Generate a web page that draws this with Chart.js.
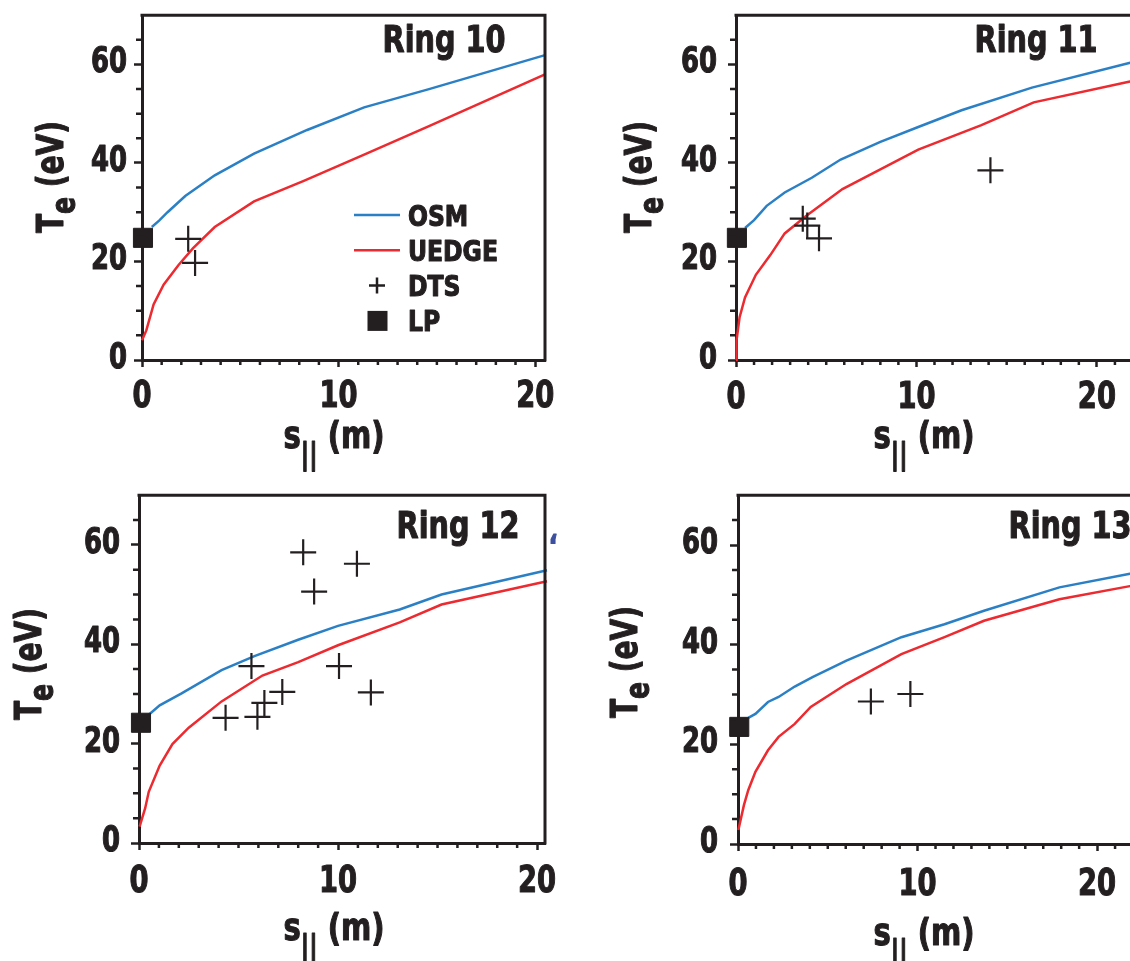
<!DOCTYPE html>
<html>
<head>
<meta charset="utf-8">
<title>Te along the field line, rings 10-13</title>
<script src="https://cdn.jsdelivr.net/npm/chart.js@4.4.1/dist/chart.umd.min.js"></script>
<style>
  html, body { margin: 0; padding: 0; background: #fff; overflow: hidden; }
  #wrap { position: relative; width: 1130px; height: 961px; overflow: hidden; }
  #wrap canvas { position: absolute; }
</style>
</head>
<body>
<div id="wrap">
  <canvas id="ring10"></canvas>
  <canvas id="ring11"></canvas>
  <canvas id="ring12"></canvas>
  <canvas id="ring13"></canvas>
</div>
<script>
// ---- data : s_par (m) / Te (eV) ----

// ring 10
const r10OsmS    = [0.5, 0.87, 1.3, 2.2, 3.7, 5.7, 8.4, 11.3, 14.6, 20.5]
const r10OsmTe   = [27, 28.3, 30, 33.3, 37.5, 41.9, 46.7, 51.3, 55.0, 61.9]
const r10UedgeS  = [0, 0.22, 0.59, 1.1, 1.86, 2.6, 3.7, 5.7, 8.2, 11.3, 14.6, 20.5]
const r10UedgeTe = [4, 6, 11.3, 15.3, 19.3, 22.7, 27, 32.2, 36.3, 41.7, 47.5, 58]
const r10DtsS    = [2.35, 2.7]
const r10DtsTe   = [24.6, 19.7]
const r10LpS     = [0.05]
const r10LpTe    = [24.8]

// ring 11
const r11OsmS    = [0.5, 1.0, 1.7, 2.7, 4.2, 5.8, 8.0, 10.1, 12.5, 16.4, 21.9]
const r11OsmTe   = [26.8, 28.4, 31.3, 34, 37, 40.7, 44.3, 47.3, 50.7, 55.3, 60.4]
const r11UedgeS  = [0, 0.03, 0.2, 0.5, 1.1, 1.9, 2.7, 3.9, 5.9, 8.0, 10.1, 13.6, 16.5, 21.9]
const r11UedgeTe = [0, 4, 8.7, 12.7, 17.3, 21.3, 25.7, 29.3, 34.7, 38.7, 42.7, 47.7, 52.3, 56.6]
const r11DtsS    = [3.7, 3.95, 4.6, 14.1]
const r11DtsTe   = [28.7, 27.3, 24.7, 38.5]
const r11LpS     = [0.05]
const r11LpTe    = [24.8]

// ring 12
const r12OsmS    = [0.49, 1.04, 2.14, 4.15, 5.8, 8.0, 10.0, 13.1, 15.2, 20.5]
const r12OsmTe   = [25.8, 27.7, 30.1, 34.8, 37.6, 40.9, 43.7, 47, 50, 54.9]
const r12UedgeS  = [0.03, 0.31, 0.49, 1.04, 1.68, 2.5, 4.15, 6.2, 8.0, 10.0, 13.1, 15.2, 20.5]
const r12UedgeTe = [3.3, 7, 10.3, 15.6, 19.9, 23.2, 28.5, 33.7, 36.4, 39.8, 44.4, 48, 52.7]
const r12DtsS    = [8.25, 10.95, 8.8, 5.65, 10.05, 7.2, 11.65, 6.3, 5.95, 4.35]
const r12DtsTe   = [58.5, 56.2, 50.6, 35.6, 35.6, 30.4, 30.3, 28.2, 25.4, 25.2]
const r12LpS     = [0.1]
const r12LpTe    = [24.2]

// ring 13
const r13OsmS    = [0.57, 0.97, 1.67, 2.26, 3.16, 4.15, 6.04, 9.1, 11.5, 13.7, 17.9, 21.9]
const r13OsmTe   = [25.3, 26.1, 28.5, 29.5, 31.6, 33.5, 36.8, 41.5, 44.1, 46.8, 51.5, 54.3]
const r13UedgeS  = [0.02, 0.33, 0.57, 0.97, 1.67, 2.26, 3.16, 4.05, 6.04, 9.1, 11.5, 13.7, 17.9, 21.9]
const r13UedgeTe = [2.8, 7.8, 10.8, 14.5, 18.8, 21.5, 24.1, 27.5, 32.1, 38.1, 41.5, 44.8, 49.1, 51.8]
const r13DtsS    = [7.4, 9.6]
const r13DtsTe   = [28.6, 30.1]
const r13LpS     = [0.07]
const r13LpTe    = [23.5]

// axes
const teTicks = [0, 20, 40, 60]
const sTicks  = [0, 10, 20]
const seriesNames = ['OSM', 'UEDGE', 'DTS', 'LP']

;(()=>{
  const INK  = '#231f20'
  const BLUE = '#2b80c5'
  const RED  = '#ec2a2f'
  const FAM  = "'Liberation Sans Narrow', 'DejaVu Sans Condensed', 'Liberation Sans', sans-serif"

  const xy = (s, te) => s.map((v, i) => ({x: v, y: te[i]}))

  // fill + thin stroke, the figure's type is heavier than DejaVu bold
  function heavy(ctx, t, x, y){
    ctx.fillText(t, x, y)
    ctx.strokeStyle = ctx.fillStyle
    ctx.lineWidth = 1.1
    ctx.lineJoin = 'round'
    ctx.strokeText(t, x, y)
  }

  // single text, squeezed horizontally (figure font is a condensed bold)
  function sqText(ctx, t, x, y, size, sq, align){
    ctx.save()
    ctx.font = 'bold ' + size + 'px ' + FAM
    ctx.translate(x, y)
    ctx.scale(sq, 1)
    ctx.textAlign = align
    ctx.textBaseline = 'alphabetic'
    heavy(ctx, t, 0, 0)
    ctx.restore()
  }

  // run of text pieces (main + subscript), centred on (0,0)
  function textRun(ctx, parts, sq){
    ctx.scale(sq, 1)
    let w = 0
    parts.forEach(p => { ctx.font = 'bold ' + p.size + 'px ' + FAM; p.w = ctx.measureText(p.t).width; w += p.w })
    let x = -w / 2
    ctx.textAlign = 'left'
    ctx.textBaseline = 'alphabetic'
    parts.forEach(p => {
      ctx.font = 'bold ' + p.size + 'px ' + FAM
      heavy(ctx, p.t, x, p.dy || 0)
      x += p.w
    })
  }

  // frame, minor ticks, tick labels, ring label, axis titles, legend
  const decor = {
    id: 'decor',
    afterDraw(chart, args, o){
      const {ctx, chartArea: a} = chart
      const sx = chart.scales.x, sy = chart.scales.y
      ctx.save()
      ctx.strokeStyle = INK
      ctx.fillStyle = INK

      ctx.lineWidth = 3
      ctx.beginPath()
      ctx.moveTo(a.left - 1.5, a.top)
      ctx.lineTo(a.right, a.top)
      ctx.lineTo(a.right, a.bottom + 1.5)
      ctx.stroke()

      ctx.lineWidth = 2.5
      ctx.beginPath()
      for(let v = 5; v < sy.max; v += 5){
        if(v % 20 === 0) continue
        const py = sy.getPixelForValue(v)
        ctx.moveTo(a.left, py); ctx.lineTo(a.left - 6, py)
      }
      for(let v = 1; v < sx.max; v++){
        if(v % 10 === 0) continue
        const px = sx.getPixelForValue(v)
        ctx.moveTo(px, a.bottom); ctx.lineTo(px, a.bottom + 5)
      }
      ctx.stroke()

      // tick labels
      sy.ticks.forEach(t => sqText(ctx, String(t.value), a.left - o.yGap, sy.getPixelForValue(t.value) + 8, 36, 0.8, 'right'))
      sx.ticks.forEach(t => sqText(ctx, String(t.value), sx.getPixelForValue(t.value), a.bottom + o.xDy, 38, 0.8, 'center'))

      // ring label
      sqText(ctx, o.title, o.titleX, o.titleY, 38, 0.84, 'center')

      // s_|| (m)
      ctx.save()
      ctx.translate(o.xTitleX, o.xTitleY)
      textRun(ctx, [{t: 's', size: 38}, {t: '||', size: 30, dy: 16}, {t: ' (m)', size: 38}], 0.85)
      ctx.restore()

      // T_e (eV)
      ctx.save()
      ctx.translate(o.yTitleX, o.yTitleY)
      ctx.rotate(-Math.PI / 2)
      textRun(ctx, [{t: 'T', size: 38}, {t: 'e', size: 34, dy: 12}, {t: ' (eV)', size: 38}], 0.82)
      ctx.restore()

      if(o.stray){
        ctx.fillStyle = '#3d4f9f'
        sqText(ctx, '\u2018', o.stray.x, o.stray.y, 30, 0.9, 'center')
        ctx.fillStyle = INK
      }

      if(o.legend){
        const L = o.legend
        ctx.lineWidth = 2.5
        ctx.strokeStyle = BLUE
        ctx.beginPath(); ctx.moveTo(L.x0, L.y); ctx.lineTo(L.x1, L.y); ctx.stroke()
        ctx.strokeStyle = RED
        ctx.beginPath(); ctx.moveTo(L.x0, L.y + L.dy); ctx.lineTo(L.x1, L.y + L.dy); ctx.stroke()
        const cx = (L.x0 + L.x1) / 2
        ctx.strokeStyle = INK
        ctx.beginPath()
        ctx.moveTo(cx - 8, L.y + 2 * L.dy); ctx.lineTo(cx + 8, L.y + 2 * L.dy)
        ctx.moveTo(cx, L.y + 2 * L.dy - 8); ctx.lineTo(cx, L.y + 2 * L.dy + 8)
        ctx.stroke()
        ctx.fillRect(cx - 9.5, L.y + 3 * L.dy - 10, 20, 20)
        seriesNames.forEach((n, i) => sqText(ctx, n, L.tx, L.y + i * L.dy + 10.5, 29, 0.9, 'left'))
      }
      ctx.restore()
    }
  }

  function Panel(id, p){
    this.p = p
    this.cv = document.getElementById(id)
    this.cv.width = p.w
    this.cv.height = p.h
    this.cv.style.left = p.left + 'px'
    this.cv.style.top = p.top + 'px'
    this.chart()
  }

  Panel.prototype.chart = function(){
    const p = this.p
    new Chart(this.cv, {
      type: 'scatter',
      data: {
        datasets: [
          {label: 'OSM', data: xy(p.osmS, p.osmTe), showLine: true, borderColor: BLUE,
           borderWidth: 2.5, pointRadius: 0, tension: 0, clip: false, order: 3},
          {label: 'UEDGE', data: xy(p.uedgeS, p.uedgeTe), showLine: true, borderColor: RED,
           borderWidth: 2.5, pointRadius: 0, tension: 0, clip: false, order: 2},
          {label: 'DTS', data: xy(p.dtsS, p.dtsTe), pointStyle: 'cross', pointRadius: 13,
           borderColor: INK, backgroundColor: INK, borderWidth: 2.2, clip: false, order: 1},
          {label: 'LP', data: xy(p.lpS, p.lpTe), pointStyle: 'rect', pointRadius: 13.5,
           borderColor: INK, backgroundColor: INK, borderWidth: 1, clip: false, order: 0}
        ]
      },
      options: {
        responsive: false,
        animation: false,
        events: [],
        layout: {padding: {top: p.padTop, right: p.padRight, left: 0, bottom: 0}},
        plugins: {
          legend: {display: false},
          tooltip: {enabled: false},
          decor: p.decor
        },
        scales: {
          x: {
            type: 'linear', min: 0, max: p.xMax,
            afterBuildTicks: s => { s.ticks = sTicks.map(v => ({value: v})) },
            afterFit: s => { s.height = p.xH; s.paddingLeft = 0; s.paddingRight = 0 },
            ticks: {display: false},
            grid: {drawOnChartArea: false, drawTicks: true, tickLength: 7, tickWidth: 2.5, tickColor: INK},
            border: {display: true, color: INK, width: 3}
          },
          y: {
            type: 'linear', min: 0, max: 70,
            afterBuildTicks: s => { s.ticks = teTicks.map(v => ({value: v})) },
            afterFit: s => { s.width = p.yW; s.paddingTop = 0; s.paddingBottom = 0 },
            ticks: {display: false},
            grid: {drawOnChartArea: false, drawTicks: true, tickLength: 8, tickWidth: 2.5, tickColor: INK},
            border: {display: true, color: INK, width: 3}
          }
        }
      },
      plugins: [decor]
    })
  }

  // ring 10
  new Panel('ring10', {
    left: 0, top: 0, w: 565, h: 480, yW: 142, xH: 120, padTop: 10, padRight: 20, xMax: 20.5,
    osmS: r10OsmS, osmTe: r10OsmTe, uedgeS: r10UedgeS, uedgeTe: r10UedgeTe,
    dtsS: r10DtsS, dtsTe: r10DtsTe, lpS: r10LpS, lpTe: r10LpTe,
    decor: {title: 'Ring 10', titleX: 444, titleY: 52, xTitleX: 334, xTitleY: 448,
            yTitleX: 63, yTitleY: 177, yGap: 15, xDy: 47,
            legend: {x0: 354, x1: 400, y: 215, dy: 35.3, tx: 408}}
  })

  // ring 11
  new Panel('ring11', {
    left: 570, top: 0, w: 600, h: 480, yW: 166, xH: 120, padTop: 10, padRight: 28, xMax: 22.5,
    osmS: r11OsmS, osmTe: r11OsmTe, uedgeS: r11UedgeS, uedgeTe: r11UedgeTe,
    dtsS: r11DtsS, dtsTe: r11DtsTe, lpS: r11LpS, lpTe: r11LpTe,
    decor: {title: 'Ring 11', titleX: 466, titleY: 52, xTitleX: 354, xTitleY: 448,
            yTitleX: 81, yTitleY: 177, yGap: 19, xDy: 48}
  })

  // ring 12
  new Panel('ring12', {
    left: 0, top: 480, w: 565, h: 481, yW: 139, xH: 118, padTop: 12, padRight: 20, xMax: 20.4,
    osmS: r12OsmS, osmTe: r12OsmTe, uedgeS: r12UedgeS, uedgeTe: r12UedgeTe,
    dtsS: r12DtsS, dtsTe: r12DtsTe, lpS: r12LpS, lpTe: r12LpTe,
    decor: {title: 'Ring 12', titleX: 458, titleY: 58, xTitleX: 334, xTitleY: 460,
            yTitleX: 41, yTitleY: 184, yGap: 19, xDy: 49, stray: {x: 553, y: 76}}
  })

  // ring 13
  new Panel('ring13', {
    left: 570, top: 480, w: 600, h: 481, yW: 168, xH: 117, padTop: 12, padRight: 28, xMax: 22.5,
    osmS: r13OsmS, osmTe: r13OsmTe, uedgeS: r13UedgeS, uedgeTe: r13UedgeTe,
    dtsS: r13DtsS, dtsTe: r13DtsTe, lpS: r13LpS, lpTe: r13LpTe,
    decor: {title: 'Ring 13', titleX: 500, titleY: 58, xTitleX: 354, xTitleY: 465,
            yTitleX: 67, yTitleY: 182, yGap: 20, xDy: 51}
  })
})()
</script>
</body>
</html>
